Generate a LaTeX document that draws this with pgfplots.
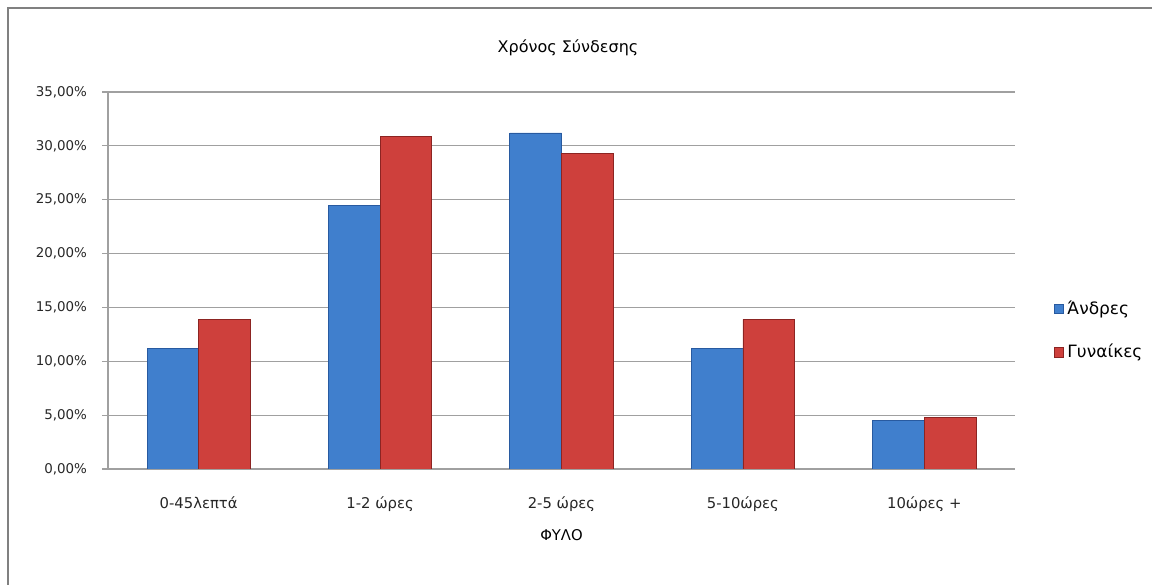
\documentclass[border=0pt]{standalone}
\usepackage{fontspec}
\setmainfont{DejaVu Sans}
\usepackage{pgfplots}
\pgfplotsset{compat=1.18}
\definecolor{blueA}{RGB}{64,127,205}
\definecolor{blueE}{RGB}{40,90,160}
\definecolor{redA}{RGB}{206,64,60}
\definecolor{redE}{RGB}{140,36,34}
\definecolor{gridc}{RGB}{160,160,160}
\begin{document}
\begin{tikzpicture}
\useasboundingbox (0,0) rectangle (576bp,292.5bp);
\draw[gridc!80!black, line width=1bp] (4bp,0) -- (4bp,288.5bp) -- (580bp,288.5bp);
\node[font=\fontsize{8bp}{9bp}\selectfont] at (284bp,268.5bp) {Χρόνος Σύνδεσης};
\begin{axis}[
  at={(54bp,58bp)}, anchor=south west,
  scale only axis, width=453.5bp, height=188.5bp,
  ybar=0pt, bar width=0.285,
  xmin=-0.5, xmax=4.5, ymin=0, ymax=35,
  xtick={0,1,2,3,4}, xticklabels={0-45λεπτά,1-2 ώρες,2-5 ώρες,5-10ώρες,10ώρες +},
  major x tick style={draw=none},
  ytick={0,5,...,35},
  yticklabel={\pgfmathprintnumber[fixed,fixed zerofill,precision=2,use comma]{\tick}\%},
  /pgf/number format/assume math mode=true,
  ymajorgrids, grid style={gridc, line width=0.6bp},
  axis x line*=bottom, axis y line*=left,
  axis line style={gridc, line width=0.6bp},
  y tick style={gridc, line width=0.6bp},
  tick align=outside, major tick length=3bp,
  ticklabel style={text=black!85},
  yticklabel style={font=\fontsize{6.7bp}{8bp}\selectfont, xshift=-4bp},
  xticklabel style={font=\fontsize{7.4bp}{9bp}\selectfont, yshift=-7.5bp},
  xlabel={ΦΥΛΟ}, xlabel style={font=\fontsize{7.4bp}{9bp}\selectfont, yshift=-2bp},
  legend style={at={(1.042,0.367)}, anchor=west, draw=none, fill=none,
    font=\fontsize{8.5bp}{10bp}\selectfont, row sep=9.5bp, inner sep=0pt,
    /tikz/every even column/.append style={column sep=1bp}},
  legend image code/.code={\fill[#1] (0bp,-2.3bp) rectangle (4.6bp,2.3bp);},
  legend cell align=left,
]
\addplot[fill=blueA, draw=blueE, line width=0.4bp] coordinates {(0,11.2) (1,24.5) (2,31.2) (3,11.2) (4,4.5)};
\addplot[fill=redA, draw=redE, line width=0.4bp] coordinates {(0,13.9) (1,30.9) (2,29.3) (3,13.9) (4,4.8)};
\legend{Άνδρες, Γυναίκες}
\end{axis}
\end{tikzpicture}
\end{document}
